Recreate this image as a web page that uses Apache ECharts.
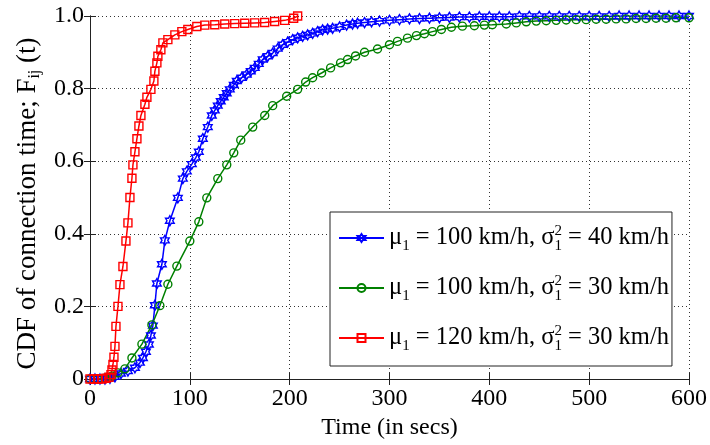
<!DOCTYPE html>
<html>
<head>
<meta charset="utf-8">
<script src="https://cdn.jsdelivr.net/npm/echarts@6/dist/echarts.min.js"></script>
<style>html,body{margin:0;padding:0;background:#fff;}#chart{width:710px;height:445px;}</style>
</head>
<body>
<div id="chart"></div>
<script>
// ---- data (time in secs, CDF value) ----
const xTicks = [0, 100, 200, 300, 400, 500, 600];
const yTicks = [0, 0.2, 0.4, 0.6, 0.8, 1.0];
const seriesNames = ['blue40', 'green30', 'red30'];

const blueData = [[0,0],[5,0],[10,0],[15,0],[20,0.002],[25,0.006],[31,0.015],[38,0.022],[45,0.031],[50,0.045],[53,0.058],[56,0.075],[59,0.095],[61,0.12],[63,0.147],[65,0.203],[67,0.263],[72,0.316],[75,0.382],[80,0.436],[88,0.499],[93,0.552],[97,0.572],[102,0.592],[106,0.61],[109,0.626],[113,0.662],[118,0.694],[122,0.726],[125,0.74],[128,0.753],[131,0.765],[134,0.776],[137,0.787],[140,0.798],[144,0.81],[147,0.821],[152,0.83],[157,0.839],[161,0.848],[165,0.857],[169,0.868],[173,0.88],[178,0.889],[183,0.898],[188,0.91],[193,0.921],[198,0.928],[203,0.935],[208,0.94],[213,0.944],[218,0.948],[223,0.952],[228,0.957],[233,0.962],[238,0.964],[243,0.966],[250,0.97],[257,0.975],[263,0.978],[268,0.98],[275,0.982],[282,0.984],[290,0.986],[300,0.988],[310,0.99],[320,0.992],[330,0.993],[340,0.994],[350,0.995],[360,0.996],[370,0.997],[380,0.997],[390,0.998],[400,0.998],[410,0.998],[420,0.998],[430,0.999],[440,0.999],[450,0.999],[460,0.999],[470,0.999],[480,0.999],[490,0.999],[500,0.999],[510,0.999],[520,0.999],[530,1],[540,1],[550,1],[560,1],[570,1],[580,1],[590,1],[600,1]];

const greenData = [[0,0],[8,0],[15,0.002],[22,0.008],[28,0.017],[35,0.028],[42,0.058],[52,0.096],[62,0.149],[70,0.202],[78,0.261],[87,0.311],[100,0.38],[109,0.433],[117,0.499],[128,0.552],[137,0.59],[144,0.623],[151,0.658],[163,0.694],[175,0.726],[183,0.753],[197,0.779],[208,0.798],[216,0.818],[223,0.83],[232,0.843],[241,0.857],[251,0.871],[258,0.88],[266,0.89],[275,0.9],[288,0.909],[300,0.921],[308,0.93],[318,0.939],[327,0.946],[335,0.951],[343,0.957],[352,0.963],[362,0.969],[373,0.972],[385,0.973],[395,0.975],[403,0.976],[417,0.978],[427,0.981],[437,0.984],[447,0.986],[457,0.987],[467,0.988],[477,0.989],[487,0.99],[497,0.99],[507,0.991],[517,0.991],[527,0.992],[537,0.992],[547,0.993],[557,0.993],[567,0.994],[577,0.994],[587,0.995],[600,0.995]];

const redData = [[0,0],[4,0],[8,0],[12,0],[16,0.002],[19,0.005],[21,0.012],[22,0.025],[23,0.04],[24,0.06],[25,0.09],[26,0.145],[28,0.2],[30,0.26],[33,0.31],[36,0.38],[38,0.43],[40,0.5],[42,0.553],[43,0.59],[45,0.626],[47,0.662],[49,0.697],[51,0.726],[55,0.757],[57,0.776],[61,0.798],[64,0.821],[65,0.848],[67,0.871],[68,0.889],[71,0.907],[73,0.926],[78,0.935],[85,0.948],[92,0.957],[98,0.963],[107,0.971],[115,0.975],[125,0.976],[135,0.978],[145,0.979],[155,0.98],[165,0.981],[175,0.982],[185,0.985],[195,0.988],[204,0.994],[208,1.0]];

const legendTexts = {
  blue40: '\u03bc{sub|1} = 100 km/h, \u03c3{sup|2}{sub|1} = 40 km/h',
  green30: '\u03bc{sub|1} = 100 km/h, \u03c3{sup|2}{sub|1} = 30 km/h',
  red30: '\u03bc{sub|1} = 120 km/h, \u03c3{sup|2}{sub|1} = 30 km/h'
};

const FONT = "'Liberation Serif', 'Times New Roman', serif";
const hexagram = 'path://M0,-100L28.9,-50L86.6,-50L57.7,0L86.6,50L28.9,50L0,100L-28.9,50L-86.6,50L-57.7,0L-86.6,-50L-28.9,-50Z';
const frame = '#222';

const chart = echarts.init(document.getElementById('chart'), null, {renderer: 'canvas'});

function mkSeries(name, data, color, symbol, size) {
  return {
    name: name, type: 'line', data: data, symbol: symbol, symbolSize: size,
    symbolKeepAspect: true, showAllSymbol: true, animation: false,
    lineStyle: {color: color, width: 1.5},
    itemStyle: {color: 'rgba(0,0,0,0)', borderColor: color, borderWidth: 1.4},
    z: 3
  };
}

const option = {
  backgroundColor: '#fff',
  animation: false,
  grid: {left: 90, right: 20, top: 16, bottom: 62, containLabel: false},
  xAxis: [{
    type: 'value', min: xTicks[0], max: xTicks[xTicks.length - 1], interval: 100,
    position: 'bottom',
    axisLine: {show: true, lineStyle: {color: frame, width: 1}},
    axisTick: {show: true, inside: true, length: 6, lineStyle: {color: frame}},
    axisLabel: {margin: 8, fontFamily: FONT, fontSize: 24, color: '#000'},
    splitLine: {show: true, lineStyle: {color: '#333', type: [1, 3], width: 1}},
    name: 'Time (in secs)', nameLocation: 'middle', nameGap: 37,
    nameTextStyle: {fontFamily: FONT, fontSize: 24, color: '#000'}
  }, {
    type: 'value', min: 0, max: 600, interval: 100, position: 'top',
    axisLine: {show: true, lineStyle: {color: frame, width: 1}},
    axisTick: {show: true, inside: true, length: 6, lineStyle: {color: frame}},
    axisLabel: {show: false}, splitLine: {show: false}
  }],
  yAxis: [{
    type: 'value', min: yTicks[0], max: yTicks[yTicks.length - 1], interval: 0.2,
    position: 'left',
    axisLine: {show: true, lineStyle: {color: frame, width: 1}},
    axisTick: {show: true, inside: true, length: 6, lineStyle: {color: frame}},
    axisLabel: {margin: 6, fontFamily: FONT, fontSize: 24, color: '#000',
      formatter: v => (v === 0 ? '0' : v.toFixed(1))},
    splitLine: {show: true, lineStyle: {color: '#333', type: [1, 3], width: 1}},
    name: 'CDF of connection time; F{sub|ij} (t)', nameLocation: 'middle', nameGap: 40, nameRotate: 90,
    nameTextStyle: {fontFamily: FONT, fontSize: 27, color: '#000', padding: [0, 12, 0, 0],
      rich: {sub: {fontFamily: FONT, fontSize: 16, color: '#000', padding: [14, 0, 0, 0]}}}
  }, {
    type: 'value', min: 0, max: 1, interval: 0.2, position: 'right',
    axisLine: {show: true, lineStyle: {color: frame, width: 1}},
    axisTick: {show: true, inside: true, length: 6, lineStyle: {color: frame}},
    axisLabel: {show: false}, splitLine: {show: false}
  }],
  legend: {
    orient: 'vertical', left: 330, top: 212,
    data: seriesNames,
    backgroundColor: '#fff', borderColor: frame, borderWidth: 1,
    padding: [6, 3, 8, 8], itemGap: 10, itemWidth: 45, itemHeight: 10,
    formatter: n => legendTexts[n],
    textStyle: {fontFamily: FONT, fontSize: 24.5, color: '#000', lineHeight: 40,
      rich: {
        sub: {fontFamily: FONT, fontSize: 15, color: '#000', padding: [16, 0, 0, 0]},
        sup: {fontFamily: FONT, fontSize: 15, color: '#000', padding: [0, 0, 14, 0], width: 0}
      }}
  },
  series: [
    mkSeries('blue40', blueData, '#0000ff', hexagram, 10),
    mkSeries('green30', greenData, '#008000', 'circle', 8),
    mkSeries('red30', redData, '#ff0000', 'rect', 8)
  ]
};
chart.setOption(option);
</script>
</body>
</html>
